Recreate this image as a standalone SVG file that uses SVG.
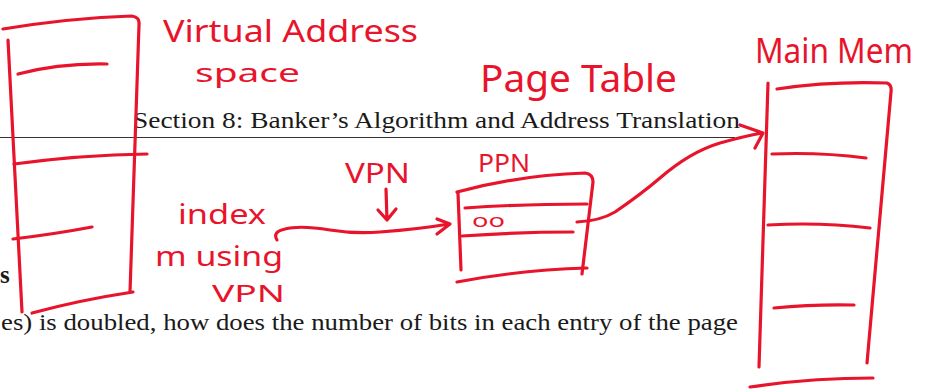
<svg xmlns="http://www.w3.org/2000/svg" width="931" height="392" viewBox="0 0 931 392">
<style>
.doc{font-family:"Liberation Serif","DejaVu Serif",serif;fill:#1a1a1a}
.ink{fill:none;stroke:#e8142c;stroke-width:3.2;stroke-linecap:round;stroke-linejoin:round}
.hw{font-family:"Noto Sans","DejaVu Sans",sans-serif;fill:#e8142c}
</style>
<rect width="931" height="392" fill="#fff"/>
<g id="document">
<text class="doc" x="133" y="128" font-size="23" textLength="607" lengthAdjust="spacingAndGlyphs">Section 8: Banker’s Algorithm and Address Translation</text>
<line x1="0" y1="137.5" x2="735" y2="137.5" stroke="#333" stroke-width="1"/>
<text class="doc" x="0" y="283" font-size="25" font-weight="bold">s</text>
<text class="doc" x="1" y="330" font-size="23" textLength="737" lengthAdjust="spacingAndGlyphs">es) is doubled, how does the number of bits in each entry of the page</text>
</g>
<g id="virtual-address-space">
<path class="ink" d="M3 29 Q70 18 132 16 Q140 17 139 25 L130 292"/>
<path class="ink" d="M8 40 L22 312"/>
<path class="ink" d="M32 313 Q80 300 133 292"/>
<path class="ink" d="M18 74 Q60 63 107 64"/>
<path class="ink" d="M14 164 Q80 155 147 154"/>
<path class="ink" d="M13 239 Q55 234 92 227"/>
<text class="hw" x="163" y="42" font-size="30" textLength="255" lengthAdjust="spacingAndGlyphs">Virtual Address</text>
<text class="hw" x="195" y="82" font-size="26" textLength="105" lengthAdjust="spacingAndGlyphs">space</text>
</g>
<g id="page-table">
<path class="ink" d="M457 192 Q520 175 585 173 Q593 174 593 182 L582 274"/>
<path class="ink" d="M458 193 L461 270"/>
<path class="ink" d="M457 282 Q520 270 587 268"/>
<path class="ink" d="M465 208 Q520 204 587 204"/>
<path class="ink" d="M462 236 Q520 232 573 232"/>
<text class="hw" x="472" y="227" font-size="18" textLength="33" lengthAdjust="spacingAndGlyphs">oo</text>
<text class="hw" x="480" y="92" font-size="38" textLength="197" lengthAdjust="spacingAndGlyphs">Page Table</text>
<text class="hw" x="478" y="172" font-size="26" textLength="52" lengthAdjust="spacingAndGlyphs">PPN</text>
</g>
<g id="main-memory">
<path class="ink" d="M768 83 L759 367"/>
<path class="ink" d="M777 89 Q830 81 887 83 Q892 85 891 92 L867 363"/>
<path class="ink" d="M750 387 Q810 378 873 378"/>
<path class="ink" d="M772 154 Q820 152 866 158"/>
<path class="ink" d="M768 225 Q820 222 870 228"/>
<path class="ink" d="M774 308 Q815 304 854 305"/>
<text class="hw" x="755" y="63" font-size="34" textLength="158" lengthAdjust="spacingAndGlyphs">Main Mem</text>
</g>
<g id="index-label">
<text class="hw" x="178" y="224" font-size="28" textLength="88" lengthAdjust="spacingAndGlyphs">index</text>
<text class="hw" x="155" y="266" font-size="28" textLength="128" lengthAdjust="spacingAndGlyphs">m using</text>
<text class="hw" x="212" y="302" font-size="24" textLength="73" lengthAdjust="spacingAndGlyphs">VPN</text>
</g>
<g id="vpn-label">
<text class="hw" x="345" y="183" font-size="28" textLength="65" lengthAdjust="spacingAndGlyphs">VPN</text>
</g>
<g id="connectors">
<path class="ink" d="M386 189 L387 220 M378 210 L387 220 L396 209"/>
<path class="ink" d="M277 240 Q272 232 285 229 Q300 225 330 230 Q355 234 380 232 Q420 229 449 224 M437 219 L450 224 L437 234"/>
<path class="ink" d="M577 222 Q600 221 615 212 Q640 195 660 178 Q690 152 720 143 Q745 136 762 133 M740 125 L763 133 L755 148"/>
</g>
</svg>
